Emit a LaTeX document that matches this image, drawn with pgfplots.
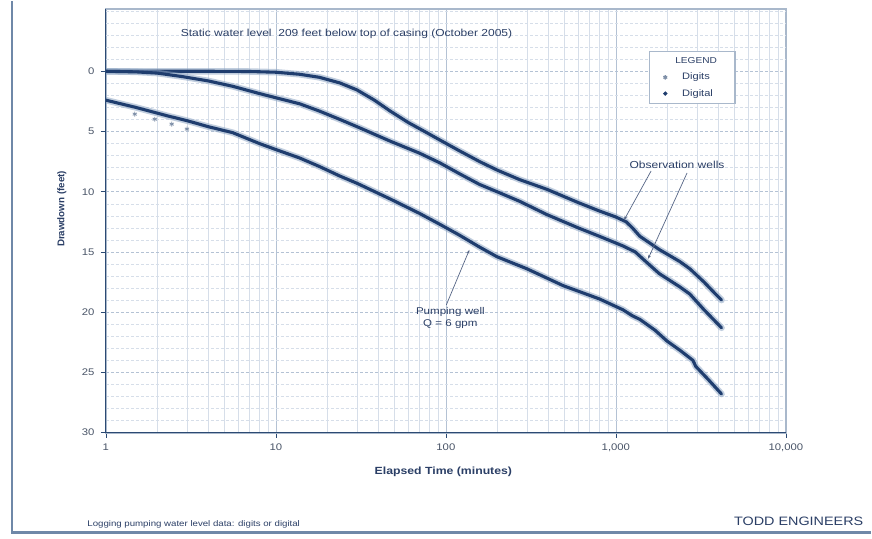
\documentclass[border=0pt]{standalone}
\usepackage{graphicx}
\usepackage{pgfplots}
\pgfplotsset{compat=1.18}
\usepackage{pgfplotstable}
\usepackage{fontspec}
\setmainfont{Liberation Sans}
\usetikzlibrary{arrows.meta}
\definecolor{navy}{HTML}{1F3D6E}
\definecolor{halo}{HTML}{8FA6C4}
\definecolor{txt}{HTML}{2B3F66}
\definecolor{ticktxt}{HTML}{4A5568}
\definecolor{gridmaj}{HTML}{B4C2D4}
\definecolor{gridmin}{HTML}{D6DEE9}
\definecolor{frameL}{HTML}{A9B8CB}
\definecolor{frameD}{HTML}{2C4A73}
\definecolor{outer}{HTML}{6F88A8}
\definecolor{digits}{HTML}{7F90A8}
\newcommand{\fs}[1]{\fontsize{#1bp}{#1bp}\selectfont}
\newcommand{\hs}[1]{\scalebox{1.18}[1]{#1}}

\pgfplotstableread{
t d
1 0
2 0
4 0
7 0.02
10 0.08
13.8 0.25
18 0.5
23.8 0.97
30 1.55
38 2.4
47 3.3
60 4.25
75 5.0
92 5.7
120 6.6
158 7.5
200 8.2
272 9.0
393 9.8
600 10.9
800 11.6
1000 12.1
1150 12.5
1250 13.0
1384 13.7
1800 14.8
2378 15.8
2724 16.4
3300 17.5
3800 18.4
4185 19.0
}\upperT

\pgfplotstableread{
t d
1 0
1.5 0.05
2 0.15
2.84 0.45
4 0.8
5.58 1.25
8 1.85
10 2.2
13.8 2.7
18 3.3
23.8 4.0
30 4.6
47 5.8
70 6.8
92 7.6
120 8.5
158 9.4
200 10.0
272 10.8
393 11.9
600 13.0
800 13.7
1100 14.5
1300 15.0
1500 15.8
1800 16.8
2378 17.9
2724 18.5
3300 19.8
4185 21.3
}\midT

\pgfplotstableread{
t d
1 2.4
1.5 3.0
2.3 3.7
3 4.1
4 4.6
5.58 5.1
8 6.0
10 6.5
13.8 7.2
18 7.9
23.8 8.7
30 9.3
47 10.6
70 11.8
92 12.7
120 13.6
158 14.6
200 15.4
300 16.4
490 17.8
800 18.9
1100 19.8
1250 20.3
1384 20.6
1700 21.5
2000 22.4
2400 23.2
2839 24.0
2950 24.5
3500 25.6
4185 26.8
}\lowT

\pgfplotstableread{
t d
1.48 3.56
1.94 3.98
2.44 4.39
3.0 4.8
}\digitpts

\begin{document}
\begin{tikzpicture}
\begin{scope}[x=1bp,y=1bp]
\useasboundingbox (0,0) rectangle (872,538);
\fill[white] (0,0) rectangle (872,538);
\end{scope}
\begin{axis}[
  at={(106bp,106bp)}, anchor=south west,
  scale only axis, width=681bp, height=424bp,
  xmode=log, xmin=1, xmax=10000,
  ymin=-5.15, ymax=30, y dir=reverse,
  xtick={1,10,100,1000,10000},
  xticklabels={{\hs{1}},{\hs{10}},{\hs{100}},{\hs{1,000}},{\hs{10,000}}},
  ytick={0,5,10,15,20,25,30},
  yticklabels={{\hs{0}},{\hs{5}},{\hs{10}},{\hs{15}},{\hs{20}},{\hs{25}},{\hs{30}}},
  minor y tick num=4,
  extra y ticks={-5,-4,-3,-2,-1},
  extra y tick labels={},
  extra y tick style={grid=major, major tick length=0pt, major grid style={gridmin, line width=0.5bp}},
  grid=both,
  major grid style={gridmaj, line width=0.6bp},
  minor grid style={gridmin, line width=0.5bp},
  y grid style={dash pattern=on 3bp off 2bp},
  axis line style={frameL, line width=1.8bp},
  tick style={frameD, line width=0.6bp},
  tick align=outside,
  xtick pos=left, ytick pos=left,
  major tick length=5bp, minor tick length=0bp,
  tick label style={font=\fs{9.6}, color=ticktxt},
  yticklabel style={xshift=-3bp},
  xticklabel style={yshift=-3bp},
  legend style={at={(0.799,0.901)}, anchor=north west, draw=frameL, line width=1.2bp,
    fill=white, font=\fs{9.4}, text=txt, inner xsep=7bp, inner ysep=4bp, row sep=4bp,
    /tikz/every odd column/.append style={column sep=13bp}},
  legend cell align=left,
]
\addlegendimage{empty legend}
\addlegendentry{\hspace*{-16bp}\makebox[60bp][c]{\fs{8.6}\hs{LEGEND}}}
\addlegendimage{only marks, mark=asterisk, mark size=2.2bp, digits}
\addlegendentry{\makebox[40bp][l]{\hs{Digits}}}
\addlegendimage{only marks, mark=*, mark size=1.5bp, navy}
\addlegendentry{\makebox[40bp][l]{\hs{Digital}}}

\addplot[halo, line width=6.5bp, opacity=0.55, line cap=round, forget plot] table[x=t,y=d] {\upperT};
\addplot[navy, line width=3.1bp, line cap=round, forget plot] table[x=t,y=d] {\upperT};
\addplot[halo, line width=6.5bp, opacity=0.55, line cap=round, forget plot] table[x=t,y=d] {\midT};
\addplot[navy, line width=3.1bp, line cap=round, forget plot] table[x=t,y=d] {\midT};
\addplot[halo, line width=6.5bp, opacity=0.55, line cap=round, forget plot] table[x=t,y=d] {\lowT};
\addplot[navy, line width=3.1bp, line cap=round, forget plot] table[x=t,y=d] {\lowT};
\addplot[only marks, mark=asterisk, mark size=2.4bp, mark options={line width=0.8bp}, digits, forget plot] table[x=t,y=d] {\digitpts};
\end{axis}
\begin{scope}[x=1bp,y=1bp]
% dark left and bottom axis lines
\draw[frameD, line width=1.2bp] (106,530) -- (106,106) -- (787,106);
% outer frame
\draw[outer, line width=2.5bp] (12,538) -- (12,6) -- (872,6);
% texts
\node[txt, font=\fs{10.2}] at (347,505) {\hs{Static water level\ \ 209 feet below top of casing (October 2005)}};
\node[txt, font=\fs{10.2}] at (678,374) {\hs{Observation wells}};
\node[txt, font=\fs{9.8}] at (451,227) {\hs{Pumping well}};
\node[txt, font=\fs{9.8}] at (451,215) {\hs{Q = 6 gpm}};
\node[txt, font=\bfseries\fs{9.8}, rotate=90] at (62,330) {Drawdown (feet)};
\node[txt, font=\bfseries\fs{10.4}] at (444,67) {\hs{Elapsed Time (minutes)}};
\node[txt, font=\fs{8.2}, anchor=west] at (84,14) {\hs{Logging pumping water level data: digits or digital}};
\node[txt, font=\fs{12.2}, anchor=east] at (868,17) {\hs{TODD ENGINEERS}};
% leader arrows
\draw[txt!80, line width=0.7bp, -{Stealth[length=4bp,width=3bp]}] (652,368) -- (625,319);
\draw[txt!80, line width=0.7bp, -{Stealth[length=4bp,width=3bp]}] (688,366) -- (649,280);
\draw[txt!80, line width=0.7bp, -{Stealth[length=4bp,width=3bp]}] (447,234) -- (470,289);
\end{scope}
\end{tikzpicture}
\end{document}
